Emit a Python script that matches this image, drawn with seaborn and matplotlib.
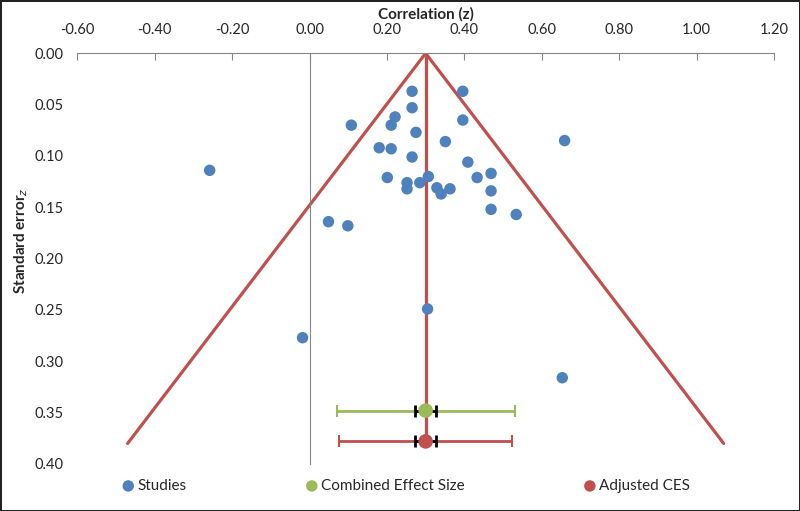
import matplotlib
matplotlib.use("Agg")
import matplotlib.pyplot as plt
import numpy as np
import pandas as pd
import seaborn as sns

# --- Data ---
study_z = [0.265, 0.396, 0.265, 0.221, 0.211, 0.108, 0.396, 0.275, 0.351, 0.659,
           0.180, 0.211, 0.265, 0.409, 0.201, 0.307, 0.285, 0.252, 0.252, 0.329,
           0.340, 0.363, 0.433, 0.469, 0.469, 0.469, 0.534, 0.049, 0.099, -0.258,
           0.305, -0.018, 0.653]
study_se = [0.037, 0.037, 0.053, 0.062, 0.070, 0.070, 0.065, 0.077, 0.086, 0.085,
            0.092, 0.093, 0.101, 0.106, 0.121, 0.120, 0.126, 0.126, 0.132, 0.131,
            0.137, 0.132, 0.121, 0.117, 0.134, 0.152, 0.157, 0.164, 0.168, 0.114,
            0.249, 0.277, 0.316]

ces_z = 0.30
ces_se = 0.348
ces_ci = [0.071, 0.531]
adj_z = 0.30
adj_se = 0.378
adj_ci = [0.076, 0.524]
inner_err = 0.027

funnel_x = [-0.47, 0.30, 1.07]
funnel_y = [0.38, 0.00, 0.38]
mid_x = [0.30, 0.30]
mid_y = [0.00, 0.38]

x_ticks = [-0.60, -0.40, -0.20, 0.00, 0.20, 0.40, 0.60, 0.80, 1.00, 1.20]
y_ticks = [0.00, 0.05, 0.10, 0.15, 0.20, 0.25, 0.30, 0.35, 0.40]

BLUE = "#4F81BD"
GREEN = "#9BBB59"
RED = "#C0504D"
GREY = "#868686"

sns.set_style("white")
plt.rcParams["font.family"] = ["Lato", "DejaVu Sans"]

fig = plt.figure(figsize=(8, 5.11), dpi=100, edgecolor="#222222", linewidth=2)
ax = fig.add_axes([0.0966, 0.092, 0.8709, 0.8037])

# funnel
ax.plot(funnel_x, funnel_y, color=RED, lw=2.3, zorder=2)
ax.plot(mid_x, mid_y, color=RED, lw=2.3, zorder=2)

studies = pd.DataFrame({"z": study_z, "se": study_se})
sns.scatterplot(data=studies, x="z", y="se", ax=ax, color=BLUE, s=68,
                edgecolor="none", label="Studies", zorder=4)

# combined effect size + adjusted
ax.errorbar([ces_z], [ces_se], xerr=[[ces_z - ces_ci[0]], [ces_ci[1] - ces_z]],
            fmt="none", ecolor=GREEN, elinewidth=2, capsize=4, capthick=1.5, zorder=3)
ax.errorbar([adj_z], [adj_se], xerr=[[adj_z - adj_ci[0]], [adj_ci[1] - adj_z]],
            fmt="none", ecolor=RED, elinewidth=2, capsize=4, capthick=1.5, zorder=3)
ax.errorbar([ces_z, adj_z], [ces_se, adj_se], xerr=inner_err, fmt="none",
            ecolor="black", elinewidth=2, capsize=4, capthick=2, zorder=4)

sns.scatterplot(x=[ces_z], y=[ces_se], ax=ax, color=GREEN, s=110,
                edgecolor="none", label="Combined Effect Size", zorder=5)
sns.scatterplot(x=[adj_z], y=[adj_se], ax=ax, color=RED, s=110,
                edgecolor="none", label="Adjusted CES", zorder=5)

# axes
ax.set_xlim(-0.60, 1.20)
ax.set_ylim(0.40, 0.00)
ax.set_xticks(x_ticks)
ax.set_xticklabels([f"{v:.2f}" for v in x_ticks], fontsize=10.5)
ax.xaxis.tick_top()
ax.xaxis.set_label_position("top")
ax.set_xlabel("Correlation (z)", fontsize=11, fontweight="bold", labelpad=3)

for side in ["bottom", "right"]:
    ax.spines[side].set_visible(False)
ax.spines["left"].set_position(("data", 0))
ax.spines["left"].set_color(GREY)
ax.spines["top"].set_color(GREY)
ax.tick_params(axis="x", direction="in", length=5, color=GREY, pad=12)
ax.set_yticks(y_ticks)
ax.tick_params(axis="y", direction="in", length=5, color=GREY, labelleft=False)

ax.set_ylabel("Standard error$_z$", fontsize=11, fontweight="bold")
ax.yaxis.set_label_coords(-0.068, 0.545)

# y tick labels sit at the far left like in Excel
sec = ax.secondary_yaxis("left")
sec.set_yticks(y_ticks)
sec.set_yticklabels([f"{v:.2f}" for v in y_ticks], fontsize=10.5)
sec.spines["left"].set_visible(False)
sec.tick_params(length=0, pad=10)

ax.legend(loc="center left", bbox_to_anchor=(0.145, 0.049),
          bbox_transform=fig.transFigure, ncol=3, frameon=False,
          fontsize=11, handlelength=0.8, handletextpad=0.2, columnspacing=7.8,
          borderaxespad=0)
leg = ax.get_legend()
for h in leg.legend_handles:
    h.set_sizes([68])

fig.savefig("out.png", dpi=100, edgecolor=fig.get_edgecolor())
